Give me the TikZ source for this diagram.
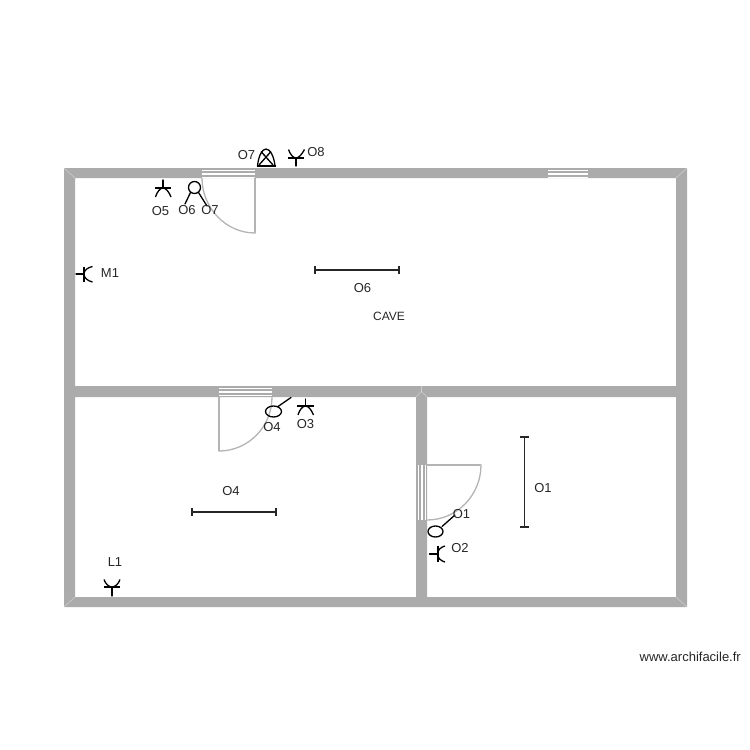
\documentclass[tikz,border=0pt]{standalone}
\usepackage{fontspec}
\setmainfont{Liberation Sans}
\usepackage{tkz-euclide}
\definecolor{wallgray}{HTML}{ABABAB}
\definecolor{doorgray}{HTML}{B4B4B4}
\tikzset{
  wall/.style={fill=wallgray,draw=none,even odd rule},
  stripe/.style={draw=white,line width=1.5pt},
  mitre/.style={draw=white,draw opacity=.4,line width=.6pt},
  door/.style={draw=doorgray,line width=1.3pt},
  elec/.style={draw=black,line width=1.3pt},
  elecbold/.style={draw=black,line width=2pt},
  meas/.style={draw=black!85,line width=1.8pt},
  lbl/.style={font=\fontsize{13}{15}\selectfont,text=black!85,inner sep=0pt},
}

\begin{document}
\begin{tikzpicture}[x=1pt,y=-1pt]
\useasboundingbox (0,0) rectangle (750,750);

% walls
\path[wall] (64,168) rectangle (687,607)
  (75,178) rectangle (676,386)
  (75,397) rectangle (416,597)
  (427,397) rectangle (676,597);
\draw[mitre] (64,168) -- (75,178);
\draw[mitre] (687,168) -- (676,178);
\draw[mitre] (64,607) -- (75,597);
\draw[mitre] (687,607) -- (676,597);
\draw[mitre] (416,397) -- (421.5,391.5) -- (427,397);
\draw[mitre] (421.5,391.5) -- (421.5,386);

% window
\draw[stripe] (548,170.5) -- (588,170.5);
\draw[stripe] (548,174) -- (588,174);
\draw[stripe] (548,177.5) -- (588,177.5);

% door top
\draw[stripe] (202,170.5) -- (255,170.5);
\draw[stripe] (202,174) -- (255,174);
\draw[stripe] (202,177.5) -- (255,177.5);
\tkzDefPoint(255,178){dA}
\tkzDefPoint(255,233){dB}
\tkzDefPoint(202,178){dC}
\tkzDrawSegment[door](dA,dB)
\draw[door] (dC) .. controls (202,208) and (226,233) .. (dB);

% door middle
\draw[stripe] (219,388.5) -- (272,388.5);
\draw[stripe] (219,392) -- (272,392);
\draw[stripe] (219,395.5) -- (272,395.5);
\tkzDefPoint(219,397){dD}
\tkzDefPoint(219,451){dE}
\tkzDefPoint(272,397){dF}
\tkzDrawSegment[door](dD,dE)
\draw[door] (dE) .. controls (248,451) and (272,427) .. (dF);

% door right
\draw[stripe] (418.5,465) -- (418.5,520);
\draw[stripe] (422,465) -- (422,520);
\draw[stripe] (425.5,465) -- (425.5,520);
\tkzDefPoint(427,465){dG}
\tkzDefPoint(481,465){dH}
\tkzDefPoint(427,520){dI}
\tkzDrawSegment[door](dG,dH)
\draw[door] (dH) .. controls (481,495) and (457,520) .. (dI);

% measures
\tkzDefPoint(315,270){mA}
\tkzDefPoint(399,270){mB}
\tkzDrawSegment[meas](mA,mB)
\draw[meas] (315,266) -- (315,274);
\draw[meas] (399,266) -- (399,274);
\tkzDefPoint(192,512){mC}
\tkzDefPoint(276,512){mD}
\tkzDrawSegment[meas](mC,mD)
\draw[meas] (192,508) -- (192,516);
\draw[meas] (276,508) -- (276,516);
\tkzDefPoint(524.5,437){mE}
\tkzDefPoint(524.5,527){mF}
\tkzDrawSegment[meas](mE,mF)
\draw[meas] (520,437) -- (529,437);
\draw[meas] (520,527) -- (529,527);

% lamp O7
\draw[elec] (257,166) -- (275.5,166);
\draw[elec] (257.5,166) .. controls (258.5,156) and (262,149) .. (266,149)
  .. controls (270,149) and (274,156) .. (275,166);
\draw[elec] (259,165) -- (271,151.5);
\draw[elec] (273,165) -- (261,151.5);

% O8
\tkzDefPoint(296,158){aA}
\tkzDefPoint(296,166){aB}
\tkzDrawSegment[elec](aA,aB)
\draw[elecbold] (288,158) -- (304,158);
\draw[elec] (288.5,149.5) .. controls (290,154) and (293,158) .. (296,158)
  .. controls (299,158) and (302,154) .. (304.5,149.5);

% O5
\tkzDefPoint(163,180){bA}
\tkzDefPoint(163,188){bB}
\tkzDrawSegment[elec](bA,bB)
\draw[elecbold] (155,188) -- (171,188);
\draw[elec] (155.5,197) .. controls (157,192) and (160,188) .. (163,188)
  .. controls (166,188) and (169,192) .. (171,197);

% switch O6 O7
\tkzDefPoint(194.5,187.5){cA}
\draw[elec] (cA) circle[radius=6];
\tkzDefPoint(190.5,192.5){cB}
\tkzDefPoint(185,204){cC}
\tkzDefPoint(198.5,192.5){cD}
\tkzDefPoint(207,206){cE}
\tkzDrawSegment[elec](cB,cC)
\tkzDrawSegment[elec](cD,cE)

% O4
\draw[elec] (273.5,411.5) ellipse[x radius=8,y radius=5.5];
\tkzDefPoint(278,406.5){eA}
\tkzDefPoint(291,397.5){eB}
\tkzDrawSegment[elec](eA,eB)

% O3
\tkzDefPoint(305.5,399){fA}
\tkzDefPoint(305.5,406){fB}
\tkzDrawSegment[elec](fA,fB)
\draw[elecbold] (297,406) -- (314,406);
\draw[elec] (298,415) .. controls (299.5,410) and (302.5,406) .. (305.5,406)
  .. controls (308.5,406) and (311.5,410) .. (313.5,415);

% O1
\draw[elec] (435.5,531.5) ellipse[x radius=7.5,y radius=5.5];
\tkzDefPoint(442,526.5){gA}
\tkzDefPoint(455,515){gB}
\tkzDrawSegment[elec](gA,gB)

% O2
\tkzDefPoint(429.5,554){hA}
\tkzDefPoint(437.5,554){hB}
\tkzDrawSegment[elec](hA,hB)
\draw[elecbold] (437.5,546) -- (437.5,562);
\draw[elec] (445,546) .. controls (441,547) and (437.5,550) .. (437.5,554)
  .. controls (437.5,558) and (441,561) .. (445,562);

% M1
\tkzDefPoint(76,274){iA}
\tkzDefPoint(84,274){iB}
\tkzDrawSegment[elec](iA,iB)
\draw[elecbold] (84,266.5) -- (84,282);
\draw[elec] (92.5,266.5) .. controls (88,267.5) and (84,270) .. (84,274)
  .. controls (84,278) and (88,281) .. (92.5,282);

% L1
\tkzDefPoint(112,587){jA}
\tkzDefPoint(112,596){jB}
\tkzDrawSegment[elec](jA,jB)
\draw[elecbold] (104,587) -- (120,587);
\draw[elec] (104,579.5) .. controls (105.5,584) and (109,587) .. (112,587)
  .. controls (115,587) and (118.5,584) .. (120,579.5);

% labels
\node[lbl] (tO7a) at (246.5,155) {O7};
\node[lbl] (tO8) at (316,152.5) {O8};
\node[lbl] (tO5) at (160.5,211.5) {O5};
\node[lbl] (tO6a) at (187,210) {O6};
\node[lbl] (tO7b) at (210,210) {O7};
\node[lbl] (tM1) at (110,273.5) {M1};
\node[lbl] (tO6b) at (362.5,288.5) {O6};
\node[lbl,font=\fontsize{12}{14}\selectfont] (tCave) at (389,316.5) {CAVE};
\node[lbl] (tO4a) at (272,427) {O4};
\node[lbl] (tO3) at (305.5,424.5) {O3};
\node[lbl] (tO4b) at (231,491.5) {O4};
\node[lbl] (tO1a) at (461.5,514) {O1};
\node[lbl] (tO1b) at (543,488.5) {O1};
\node[lbl] (tO2) at (460,548.5) {O2};
\node[lbl] (tL1) at (115,562.5) {L1};
\node[lbl,anchor=east] (tSite) at (741,657) {www.archifacile.fr};
\end{tikzpicture}
\end{document}
